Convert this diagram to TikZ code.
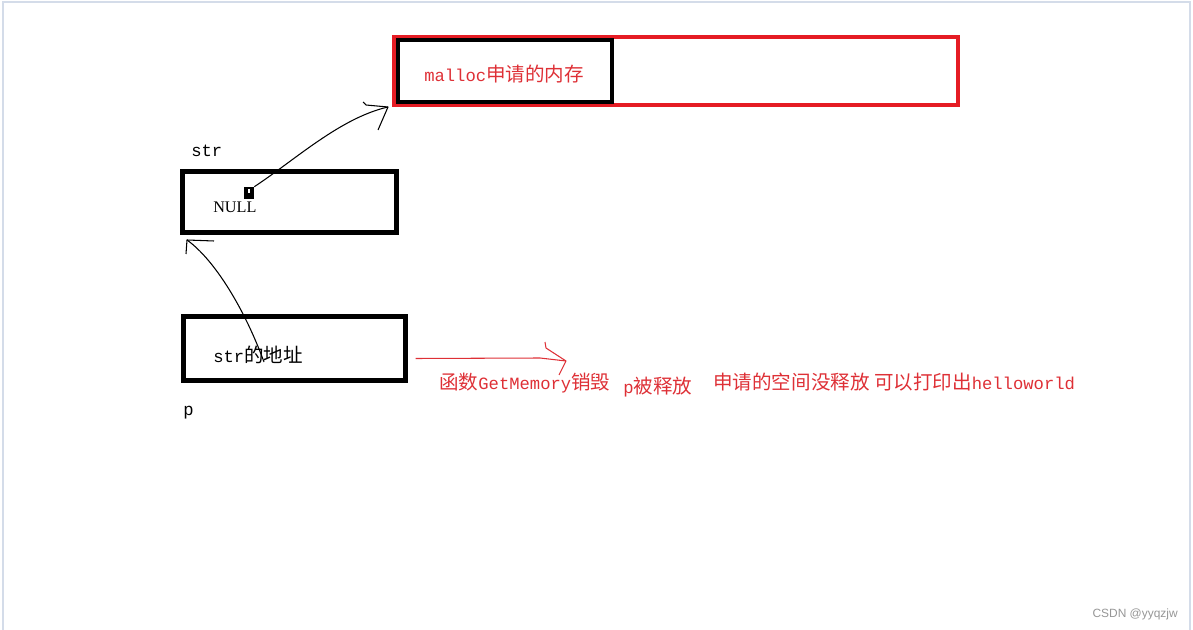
\documentclass[tikz,border=0pt]{standalone}
\usepackage{fontspec}
\setmainfont{Liberation Serif}
\setsansfont{Liberation Sans}
\setmonofont[Scale=0.88]{Liberation Mono}
\newfontfamily\zhfont{Noto Sans CJK SC}
\usetikzlibrary{calc}
\definecolor{memred}{RGB}{229,28,36}
\definecolor{notered}{RGB}{222,48,54}
\definecolor{frameline}{RGB}{212,220,233}
\definecolor{markgray}{RGB}{150,150,150}

\begin{document}
\begin{tikzpicture}[
  x=0.025cm,y=-0.025cm,
  font=\fontsize{13.9}{16}\selectfont,
  cell/.style={draw=black, line width=2.9pt, inner sep=0pt},
  heapbox/.style={draw=memred, line width=2.9pt, inner sep=0pt},
  lbl/.style={anchor=base west, inner sep=0pt},
  note/.style={lbl, text=notered},
  sketch/.style={line width=0.75pt, line join=round},
  redsketch/.style={sketch, draw=notered}
]
\useasboundingbox (0,0) rectangle (1193,630);

% Faint window frame.
\draw[frameline, line width=1.3pt] (3,630) -- (3,2) -- (1190,2) -- (1190,630);

% Heap block from malloc.
\node[heapbox, minimum width=14.1cm, minimum height=1.7cm] (heap) at (676,71) {};
\node[cell, line width=2.3pt, minimum width=5.35cm, minimum height=1.55cm]
  (used) at (505,71) {};
\node[note] (heaplbl) at (424,82) {{\ttfamily malloc}{\zhfont 申请的内存}};

% str and p on the stack.
\node[lbl] (strlbl) at (191,157) {\ttfamily str};
\node[cell, minimum width=5.35cm, minimum height=1.525cm] (strbox) at (289.5,202) {};
\node[lbl, font=\fontsize{11.5}{14}\selectfont] (nulltxt) at (213,213) {NULL};
\node[fill=black, minimum width=0.25cm, minimum height=0.3cm, inner sep=0pt]
  (ptr) at (249,193) {};
\fill[white] (248,189.5) rectangle (249.5,193);

\node[cell, minimum width=5.55cm, minimum height=1.6cm] (pbox) at (294.5,348.5) {};
\node[lbl] (addr) at (213,363) {{\ttfamily str}{\zhfont 的地址}};
\node[lbl] (plbl) at (183,415) {\ttfamily p};

% Hand-drawn pointers.
\coordinate (heaptip) at (388,107);
\coordinate (nulltip) at (187,240);
\coordinate (addrpt) at (264,362);
\coordinate (freetip) at (566,361);

\draw[sketch] (ptr.north east) .. controls (295,160) and (340,118) .. (heaptip);
\draw[sketch] (363,102) -- (366,105) -- (heaptip) -- (378,130);

\draw[sketch] (addrpt) .. controls (245,310) and (215,260) .. (nulltip);
\draw[sketch] (214,241) -- (nulltip) -- (186,254);

\draw[redsketch] ($(pbox.east)+(8,10)$) -- (540,358) -- (freetip);
\draw[redsketch] (545,342) -- (546,348) -- (freetip) -- (559,375);

% Notes under the arrow.
\node[note] (destroyed) at (439,389) {{\zhfont 函数}{\ttfamily GetMemory}{\zhfont 销毁}};
\node[note] (pfreed) at (623,393) {{\ttfamily p}{\zhfont 被释放}};
\node[note] (leak) at (713,390)
  {{\zhfont 申请的空间没释放 可以打印出}{\ttfamily helloworld}};

\node[anchor=base east, inner sep=0pt, font=\sffamily\fontsize{8.5}{10}\selectfont,
  text=markgray] (credit) at (1178,617) {CSDN @yyqzjw};
\end{tikzpicture}
\end{document}
